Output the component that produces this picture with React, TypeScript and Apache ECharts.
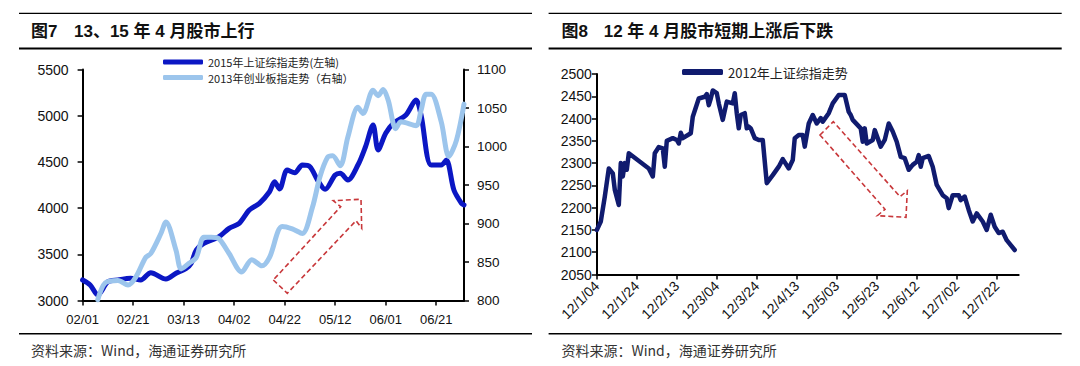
import React, { useEffect, useRef } from "react";
import * as echarts from "echarts";

// ---------- Figure 7 data (2015 SSE, left axis; 2013 ChiNext, right axis) ----------
const sse2015Dates = [
  "02/01", "02/04", "02/07", "02/11", "02/15", "02/20", "02/24", "02/28", "03/06", "03/10",
  "03/14", "03/16", "03/18", "03/21", "03/27", "03/31", "04/04", "04/08", "04/12", "04/16",
  "04/18", "04/20", "04/23", "04/26", "04/29", "05/02", "05/05", "05/08", "05/12", "05/14",
  "05/17", "05/21", "05/24", "05/27", "05/29", "06/01", "06/04", "06/09", "06/13", "06/15",
  "06/19", "06/23", "06/25", "06/28", "07/01", "07/02",
];
const sse2015Values = [
  3222, 3168, 3060, 3203, 3222, 3240, 3222, 3301, 3233, 3294,
  3348, 3402, 3546, 3619, 3690, 3781, 3835, 3979, 4052, 4177,
  4286, 4207, 4412, 4383, 4466, 4448, 4304, 4203, 4358, 4377,
  4304, 4466, 4664, 4899, 4629, 4809, 4918, 5008, 5170, 5008,
  4466, 4466, 4521, 4196, 4052, 4034,
];
const cyb2013Dates = [
  "02/07", "02/10", "02/15", "02/19", "02/22", "02/26", "02/28", "03/04", "03/06", "03/10",
  "03/12", "03/15", "03/18", "03/21", "03/24", "03/27", "03/31", "04/05", "04/09", "04/13",
  "04/16", "04/21", "04/25", "04/29", "05/03", "05/06", "05/09", "05/11", "05/14", "05/17",
  "05/21", "05/23", "05/27", "05/29", "05/31", "06/02", "06/05", "06/07", "06/13", "06/15",
  "06/17", "06/19", "06/23", "06/26", "06/29", "07/02",
];
const cyb2013Values = [
  801, 823, 826, 820, 830, 856, 861, 887, 902, 865,
  841, 848, 856, 882, 882, 880, 861, 837, 853, 845,
  856, 896, 893, 887, 921, 961, 986, 988, 975, 1012,
  1051, 1043, 1073, 1066, 1074, 1060, 1023, 1032, 1027, 1047,
  1068, 1068, 1032, 987, 1008, 1055,
];

// ---------- Figure 8 data (2012 SSE) ----------
const sse2012Dates = [
  "12/1/04", "12/1/06", "12/1/08", "12/1/10", "12/1/12", "12/1/13", "12/1/15", "12/1/16", "12/1/17", "12/1/18",
  "12/1/19", "12/1/20", "12/1/30", "12/2/01", "12/2/02", "12/2/04", "12/2/06", "12/2/07", "12/2/08", "12/2/11",
  "12/2/13", "12/2/14", "12/2/15", "12/2/16", "12/2/20", "12/2/21", "12/2/24", "12/2/27", "12/2/28", "12/2/29",
  "12/3/01", "12/3/02", "12/3/04", "12/3/05", "12/3/07", "12/3/09", "12/3/12", "12/3/13", "12/3/14", "12/3/15",
  "12/3/16", "12/3/18", "12/3/19", "12/3/20", "12/3/21", "12/3/23", "12/3/25", "12/3/27", "12/3/29", "12/4/01",
  "12/4/04", "12/4/06", "12/4/09", "12/4/11", "12/4/12", "12/4/14", "12/4/16", "12/4/17", "12/4/19", "12/4/21",
  "12/4/23", "12/4/25", "12/4/26", "12/4/29", "12/5/01", "12/5/04", "12/5/07", "12/5/09", "12/5/10", "12/5/11",
  "12/5/15", "12/5/16", "12/5/17", "12/5/18", "12/5/21", "12/5/22", "12/5/25", "12/5/27", "12/5/29", "12/5/31",
  "12/6/02", "12/6/04", "12/6/06", "12/6/08", "12/6/10", "12/6/12", "12/6/13", "12/6/14", "12/6/15", "12/6/18",
  "12/6/20", "12/6/22", "12/6/25", "12/6/27", "12/6/28", "12/6/30", "12/7/03", "12/7/04", "12/7/06", "12/7/08",
  "12/7/10", "12/7/12", "12/7/15", "12/7/17", "12/7/19", "12/7/21", "12/7/23", "12/7/25", "12/7/27", "12/7/31",
];
const sse2012Values = [
  2150, 2169, 2225, 2288, 2277, 2240, 2206, 2300, 2270, 2300,
  2285, 2322, 2288, 2270, 2322, 2336, 2333, 2292, 2350, 2356,
  2352, 2344, 2368, 2356, 2367, 2404, 2445, 2449, 2455, 2430,
  2445, 2463, 2457, 2434, 2397, 2438, 2434, 2457, 2412, 2378,
  2408, 2412, 2378, 2382, 2378, 2356, 2352, 2352, 2255, 2273,
  2292, 2309, 2288, 2307, 2356, 2363, 2363, 2337, 2389, 2408,
  2389, 2401, 2393, 2412, 2434, 2453, 2453, 2415, 2408, 2397,
  2378, 2348, 2378, 2344, 2352, 2374, 2337, 2352, 2389, 2371,
  2348, 2314, 2311, 2285, 2296, 2303, 2318, 2292, 2311, 2316,
  2292, 2251, 2228, 2221, 2199, 2228, 2228, 2217, 2225, 2195,
  2169, 2187, 2169, 2150, 2184, 2157, 2143, 2146, 2127, 2105,
];

// ---------- texts ----------
const leftFigNo = "图7";
const leftTitle = "13、15 年 4 月股市上行";
const rightFigNo = "图8";
const rightTitle = "12 年 4 月股市短期上涨后下跌";
const sourceText = "资料来源：Wind，海通证券研究所";
const name2015 = "2015年上证综指走势(左轴)";
const name2013 = "2013年创业板指走势（右轴）";
const name2012 = "2012年上证综指走势";

// axis ranges
const leftAxisRange = { min: 3000, max: 5500, interval: 500 };
const rightAxisRange = { min: 800, max: 1100, interval: 50 };
const fig8AxisRange = { min: 2050, max: 2500, interval: 50 };
const LABEL_STEP = 20; // one date label every 20 calendar days

const pad2 = (n: number) => String(n).padStart(2, "0");
function buildDays(y: number, m: number, d: number, count: number, fmt: (dt: Date) => string) {
  const out: string[] = [];
  for (let i = 0; i < count; i++) {
    out.push(fmt(new Date(Date.UTC(y, m - 1, d + i))));
  }
  return out;
}
const fig7Cats = buildDays(2015, 2, 1, 152, (dt) => `${pad2(dt.getUTCMonth() + 1)}/${pad2(dt.getUTCDate())}`);
const fig8Cats = buildDays(2012, 1, 4, 212, (dt) => `12/${dt.getUTCMonth() + 1}/${pad2(dt.getUTCDate())}`);

const pairs = (ds: string[], vs: number[]) => ds.map((d, i) => [d, vs[i]]);
const everyStep = (idx: number) => idx % LABEL_STEP === 0;
const plain = (v: number) => String(v);

const FONT = "'Liberation Sans', Arial, 'Noto Sans CJK SC', sans-serif";
const CJK = "'Noto Sans CJK SC', 'Liberation Sans', sans-serif";

const DARK = "#0B17C4";
const LIGHT = "#9CC5EC";
const NAVY = "#101B6F";
const RED = "#C8373A";

export default function App() {
  const ref = useRef<HTMLDivElement>(null);
  useEffect(() => {
    if (!ref.current) return;
    const chart = echarts.init(ref.current, null, { renderer: "svg" });
    const axisLine = { show: true, lineStyle: { color: "#000", width: 2 } };
    const axisTick = { show: true, length: 5, lineStyle: { color: "#000", width: 1.5 } };
    const hline = (x1: number, x2: number, y: number, w: number) => ({
      type: "line",
      shape: { x1, y1: y, x2, y2: y },
      style: { stroke: "#000", lineWidth: w },
      silent: true,
    });
    const txt = (x: number, y: number, text: string, font: string, size: number, weight: string, fill: string) => ({
      type: "text",
      x,
      y,
      style: {
        text,
        fontFamily: font,
        fontSize: size,
        fontWeight: weight,
        fill,
        textAlign: "left",
        verticalAlign: "middle",
        textVerticalAlign: "middle",
      },
      silent: true,
    });
    const arrowStyle = { fill: "none", stroke: RED, lineWidth: 1.6, lineDash: [5, 3] };
    const legendBase = {
      icon: "roundRect",
      itemWidth: 40,
      itemHeight: 5,
      itemStyle: { borderWidth: 0 },
      textStyle: { fontFamily: CJK, fontSize: 11, color: "#222", lineHeight: 11 },
      padding: 0,
    };

    chart.setOption({
      animation: false,
      backgroundColor: "#fff",
      grid: [
        { left: 82.6, top: 69.5, width: 381.4, height: 231 },
        { left: 596.8, top: 74, width: 421.9, height: 200.5 },
      ],
      xAxis: [
        {
          type: "category",
          gridIndex: 0,
          data: fig7Cats,
          boundaryGap: false,
          axisLine,
          axisTick: { ...axisTick, interval: everyStep },
          axisLabel: {
            interval: everyStep,
            margin: 12,
            color: "#111",
            fontFamily: FONT,
            fontSize: 13,
          },
          splitLine: { show: false },
        },
        {
          type: "category",
          gridIndex: 1,
          data: fig8Cats,
          boundaryGap: false,
          axisLine,
          axisTick: { ...axisTick, interval: everyStep },
          axisLabel: {
            interval: everyStep,
            rotate: 45,
            margin: 9,
            color: "#111",
            fontFamily: FONT,
            fontSize: 14,
          },
          splitLine: { show: false },
        },
      ],
      yAxis: [
        {
          type: "value",
          gridIndex: 0,
          position: "left",
          ...leftAxisRange,
          axisLine,
          axisTick,
          axisLabel: { margin: 14, color: "#111", fontFamily: FONT, fontSize: 14, formatter: plain },
          splitLine: { show: false },
        },
        {
          type: "value",
          gridIndex: 0,
          position: "right",
          ...rightAxisRange,
          axisLine,
          axisTick,
          axisLabel: { margin: 13, color: "#111", fontFamily: FONT, fontSize: 13.5, formatter: plain },
          splitLine: { show: false },
        },
        {
          type: "value",
          gridIndex: 1,
          position: "left",
          ...fig8AxisRange,
          axisLine,
          axisTick,
          axisLabel: { margin: 5, color: "#111", fontFamily: FONT, fontSize: 14, formatter: plain },
          splitLine: { show: false },
        },
      ],
      legend: [
        { ...legendBase, data: [name2015], left: 163, top: 56.5 },
        { ...legendBase, data: [name2013], left: 163, top: 72 },
        {
          ...legendBase,
          data: [name2012],
          left: 682,
          top: 65.5,
          itemWidth: 41,
          itemHeight: 6,
          textStyle: { fontFamily: CJK, fontSize: 13, color: "#222", lineHeight: 12 },
        },
      ],
      series: [
        {
          name: name2015,
          type: "line",
          xAxisIndex: 0,
          yAxisIndex: 0,
          data: pairs(sse2015Dates, sse2015Values),
          showSymbol: false,
          smooth: 0.3,
          color: DARK,
          lineStyle: { color: DARK, width: 5, cap: "round", join: "round" },
        },
        {
          name: name2013,
          type: "line",
          xAxisIndex: 0,
          yAxisIndex: 1,
          data: pairs(cyb2013Dates, cyb2013Values),
          showSymbol: false,
          smooth: 0.3,
          color: LIGHT,
          lineStyle: { color: LIGHT, width: 5, cap: "round", join: "round" },
        },
        {
          name: name2012,
          type: "line",
          xAxisIndex: 1,
          yAxisIndex: 2,
          data: pairs(sse2012Dates, sse2012Values),
          showSymbol: false,
          color: NAVY,
          lineStyle: { color: NAVY, width: 4.5, cap: "round", join: "round" },
        },
      ],
      graphic: [
        hline(19, 532, 13.4, 1.4),
        hline(19, 532, 48.6, 2),
        hline(19, 532, 333.7, 1.4),
        hline(548.6, 1061.7, 13.4, 1.4),
        hline(548.6, 1061.7, 48.6, 2),
        hline(548.6, 1061.7, 333.7, 1.4),
        txt(31, 31, leftFigNo, FONT, 17, "bold", "#111"),
        txt(74, 31, leftTitle, FONT, 17, "bold", "#111"),
        txt(561.4, 31, rightFigNo, FONT, 17, "bold", "#111"),
        txt(603.7, 31, rightTitle, FONT, 17, "bold", "#111"),
        txt(31, 350, sourceText, CJK, 14, "normal", "#333"),
        txt(561.4, 350, sourceText, CJK, 14, "normal", "#333"),
        {
          type: "polygon",
          shape: {
            points: [
              [273.3, 280], [287.3, 293.3], [356, 220.7], [361.7, 228.3],
              [361, 199.3], [333.3, 200.7], [340.7, 206.7],
            ],
          },
          style: arrowStyle,
          silent: true,
        },
        {
          type: "polygon",
          shape: {
            points: [
              [820, 135], [833.3, 121.7], [900, 196.7], [907.3, 190.7],
              [906, 217.3], [877.3, 215.7], [885, 209.3],
            ],
          },
          style: arrowStyle,
          silent: true,
        },
      ],
    });
    return () => chart.dispose();
  }, []);
  return (
    <div
      ref={ref}
      style={{ position: "fixed", left: 0, top: 0, width: 1080, height: 366, background: "#fff" }}
    />
  );
}
